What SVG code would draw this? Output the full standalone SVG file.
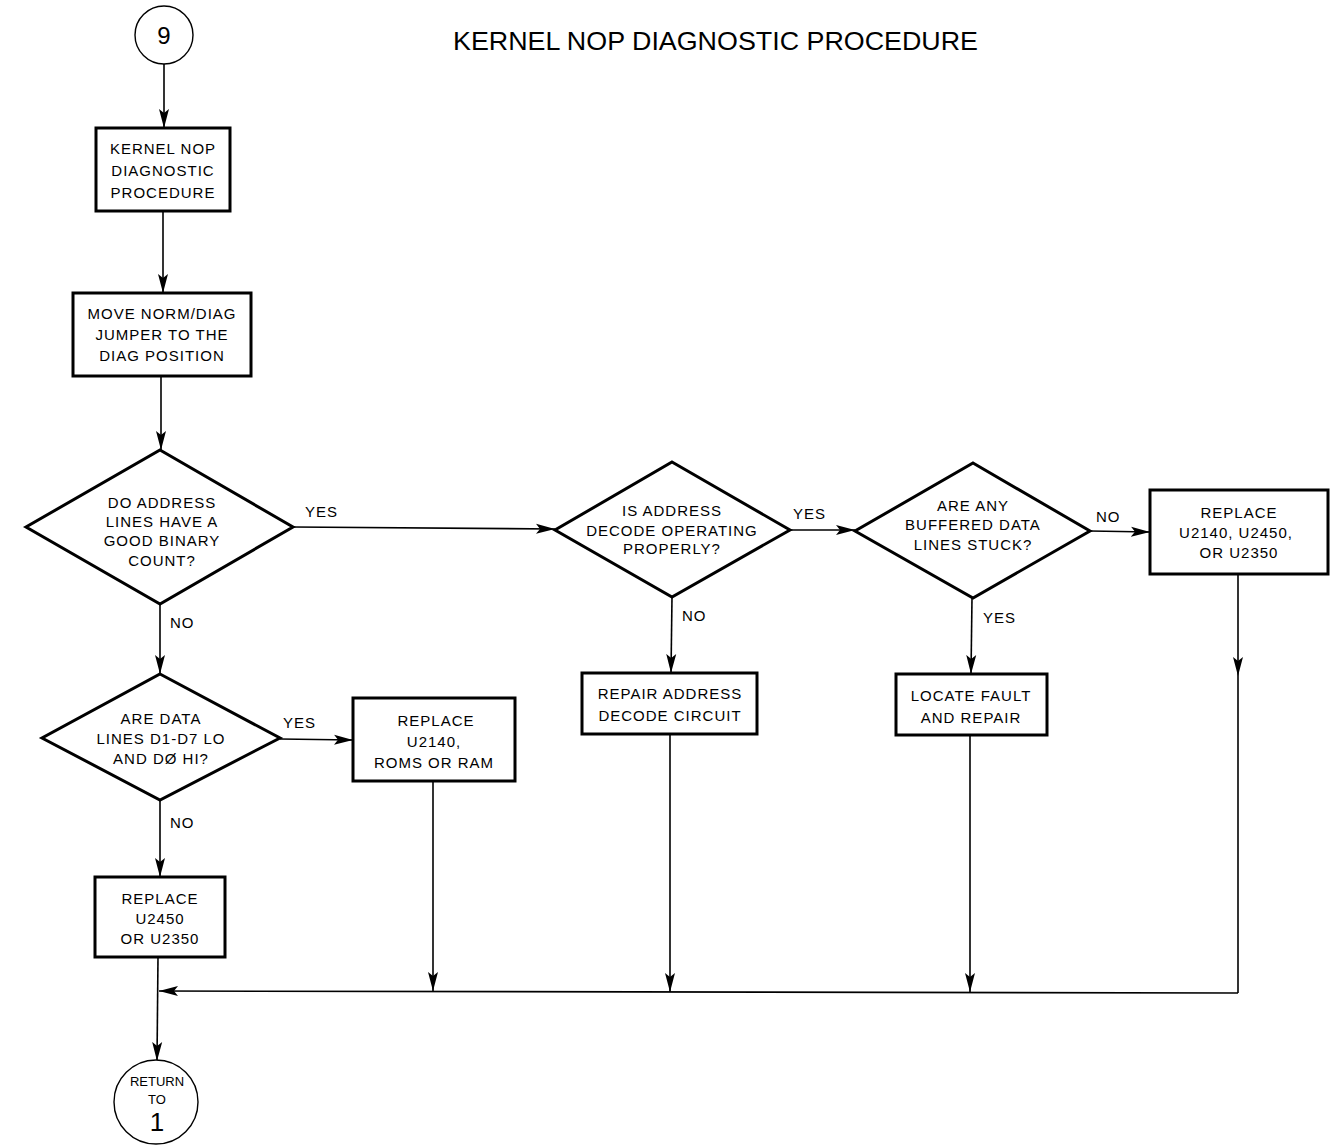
<svg xmlns="http://www.w3.org/2000/svg" width="1344" height="1145" viewBox="0 0 1344 1145">
<style>
.bg{fill:#fff}
.box{fill:#fff;stroke:#000;stroke-width:3}
.dia{fill:#fff;stroke:#000;stroke-width:3;stroke-linejoin:miter}
.circ{fill:#fff;stroke:#000;stroke-width:1.4}
.t{font-family:"Liberation Sans",Arial,sans-serif;font-size:15px;fill:#000;text-anchor:middle;letter-spacing:1px}
.lbl{font-family:"Liberation Sans",Arial,sans-serif;font-size:15px;fill:#000;letter-spacing:1px}
.title{font-family:"Liberation Sans",Arial,sans-serif;font-size:26px;fill:#000}
.c{fill:none;stroke:#000;stroke-width:1.6}
</style>
<defs>
<marker id="ah" markerUnits="userSpaceOnUse" markerWidth="22" markerHeight="12" refX="19" refY="5.5" orient="auto">
<path d="M0,0.5 L19,5.5 L0,10.5 L4,5.5 z" fill="#000"/>
</marker>
</defs>
<rect class="bg" x="0" y="0" width="1344" height="1145"/>
<text class="title" x="453" y="50" textLength="525" lengthAdjust="spacingAndGlyphs">KERNEL NOP DIAGNOSTIC PROCEDURE</text>

<g id="connectors">
<line class="c" x1="164" y1="64" x2="164" y2="128" marker-end="url(#ah)"/>
<line class="c" x1="163" y1="211" x2="163" y2="293" marker-end="url(#ah)"/>
<line class="c" x1="161" y1="376" x2="161" y2="450" marker-end="url(#ah)"/>
<line class="c" x1="293" y1="527" x2="555" y2="529" marker-end="url(#ah)"/>
<line class="c" x1="790" y1="530" x2="855" y2="530" marker-end="url(#ah)"/>
<line class="c" x1="1090" y1="531" x2="1150" y2="532" marker-end="url(#ah)"/>
<line class="c" x1="160" y1="604" x2="160" y2="674" marker-end="url(#ah)"/>
<line class="c" x1="672" y1="597" x2="671" y2="673" marker-end="url(#ah)"/>
<line class="c" x1="972" y1="598" x2="971" y2="674" marker-end="url(#ah)"/>
<line class="c" x1="280" y1="739" x2="353" y2="740" marker-end="url(#ah)"/>
<line class="c" x1="160" y1="800" x2="160" y2="877" marker-end="url(#ah)"/>
<line class="c" x1="1238" y1="574" x2="1238" y2="676" marker-end="url(#ah)"/>
<line class="c" x1="1238" y1="676" x2="1238" y2="993"/>
<line class="c" x1="1238" y1="993" x2="159" y2="991" marker-end="url(#ah)"/>
<line class="c" x1="433" y1="781" x2="433" y2="991" marker-end="url(#ah)"/>
<line class="c" x1="670" y1="734" x2="670" y2="992" marker-end="url(#ah)"/>
<line class="c" x1="970" y1="735" x2="970" y2="992" marker-end="url(#ah)"/>
<line class="c" x1="158" y1="957" x2="157" y2="1061" marker-end="url(#ah)"/>
<text class="lbl" x="305" y="517">YES</text>
<text class="lbl" x="170" y="628">NO</text>
<text class="lbl" x="793" y="519">YES</text>
<text class="lbl" x="682" y="621">NO</text>
<text class="lbl" x="1096" y="522">NO</text>
<text class="lbl" x="983" y="623">YES</text>
<text class="lbl" x="283" y="728">YES</text>
<text class="lbl" x="170" y="828">NO</text>
</g>

<g id="start">
<circle class="circ" cx="164" cy="35" r="29"/>
<text class="t" x="164" y="44" style="font-size:24px;letter-spacing:0">9</text>
</g>

<g id="kernel-nop">
<rect class="box" x="96" y="128" width="134" height="83"/>
<text class="t" x="163" y="154">KERNEL NOP</text>
<text class="t" x="163" y="176">DIAGNOSTIC</text>
<text class="t" x="163" y="198">PROCEDURE</text>
</g>

<g id="move-jumper">
<rect class="box" x="73" y="293" width="178" height="83"/>
<text class="t" x="162" y="319">MOVE NORM/DIAG</text>
<text class="t" x="162" y="340">JUMPER TO THE</text>
<text class="t" x="162" y="361">DIAG POSITION</text>
</g>

<g id="address-count">
<polygon class="dia" points="160,450 293,527 160,604 26,527"/>
<text class="t" x="162" y="508">DO ADDRESS</text>
<text class="t" x="162" y="527">LINES HAVE A</text>
<text class="t" x="162" y="546">GOOD BINARY</text>
<text class="t" x="162" y="566">COUNT?</text>
</g>

<g id="address-decode">
<polygon class="dia" points="672,462 790,530 672,597 555,530"/>
<text class="t" x="672" y="516">IS ADDRESS</text>
<text class="t" x="672" y="536">DECODE OPERATING</text>
<text class="t" x="672" y="554">PROPERLY?</text>
</g>

<g id="buffered-stuck">
<polygon class="dia" points="973,463 1090,531 973,598 855,531"/>
<text class="t" x="973" y="511">ARE ANY</text>
<text class="t" x="973" y="530">BUFFERED DATA</text>
<text class="t" x="973" y="550">LINES STUCK?</text>
</g>

<g id="replace-3">
<rect class="box" x="1150" y="490" width="178" height="84"/>
<text class="t" x="1239" y="518">REPLACE</text>
<text class="t" x="1236" y="538">U2140,  U2450,</text>
<text class="t" x="1239" y="558">OR U2350</text>
</g>

<g id="repair-decode">
<rect class="box" x="582" y="673" width="175" height="61"/>
<text class="t" x="670" y="699">REPAIR ADDRESS</text>
<text class="t" x="670" y="721">DECODE CIRCUIT</text>
</g>

<g id="locate-fault">
<rect class="box" x="896" y="674" width="151" height="61"/>
<text class="t" x="971" y="701">LOCATE FAULT</text>
<text class="t" x="971" y="723">AND REPAIR</text>
</g>

<g id="data-lines">
<polygon class="dia" points="160,674 280,738 160,800 42,738"/>
<text class="t" x="161" y="724">ARE DATA</text>
<text class="t" x="161" y="744">LINES D1-D7 LO</text>
<text class="t" x="161" y="764">AND DØ HI?</text>
</g>

<g id="replace-roms">
<rect class="box" x="353" y="698" width="162" height="83"/>
<text class="t" x="436" y="726">REPLACE</text>
<text class="t" x="434" y="747">U2140,</text>
<text class="t" x="434" y="768">ROMS OR RAM</text>
</g>

<g id="replace-2">
<rect class="box" x="95" y="877" width="130" height="80"/>
<text class="t" x="160" y="904">REPLACE</text>
<text class="t" x="160" y="924">U2450</text>
<text class="t" x="160" y="944">OR U2350</text>
</g>

<g id="return">
<circle class="circ" cx="156" cy="1102" r="42"/>
<text class="t" x="157" y="1086" style="font-size:13px;letter-spacing:0">RETURN</text>
<text class="t" x="157" y="1104" style="font-size:13px;letter-spacing:0">TO</text>
<text class="t" x="157" y="1131" style="font-size:26px;letter-spacing:0">1</text>
</g>
</svg>
